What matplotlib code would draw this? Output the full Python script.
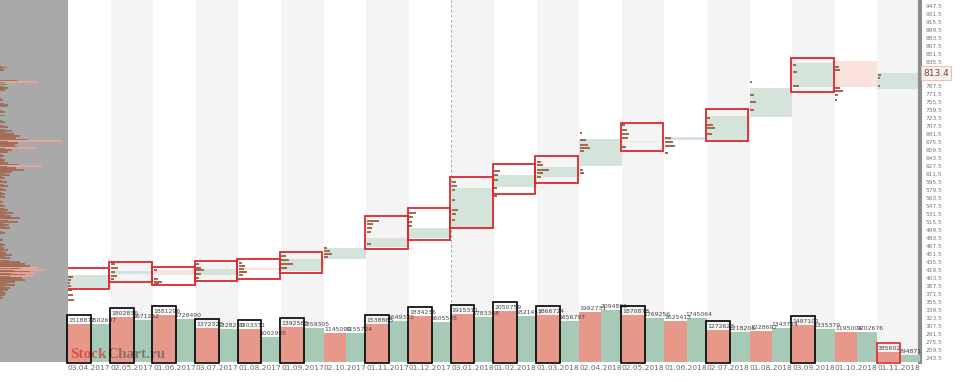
import numpy as np
import matplotlib
matplotlib.use("Agg")
import matplotlib.pyplot as plt
from matplotlib.patches import Rectangle

# ===== Data =====
months = ["03.04.2017", "02.05.2017", "01.06.2017", "03.07.2017", "01.08.2017", "01.09.2017",
          "02.10.2017", "01.11.2017", "01.12.2017", "03.01.2018", "01.02.2018", "01.03.2018",
          "02.04.2018", "02.05.2018", "01.06.2018", "02.07.2018", "01.08.2018", "03.09.2018",
          "01.10.2018", "01.11.2018"]

vol_down = [1518877, 1802836, 1881296, 1372323, 1303331, 1392563, 1145099, 1538865, 1834236, 1915311,
            2050759, 1866724, 1992731, 1870878, 1625413, 1272623, 1228692, 1497101, 1195004, 385602]
vol_up = [1502697, 1671252, 1728490, 1328259, 1002985, 1359305, 1155724, 1649372, 1605545, 1783368,
          1821457, 1656797, 2094886, 1769256, 1745064, 1218208, 1343774, 1335379, 1202676, 294871]

# monthly range boxes (high, low); None = no box
box_high = [423.4, 435.4, 425.4, 437.4, 441.4, 455.4, None, 527.4, 543.4, 605.4,
            631.4, 647.4, None, 713.4, None, 741.4, None, 843.4, None, None]
box_low = [381.4, 395.4, 389.4, 397.4, 401.4, 413.4, None, 461.4, 479.4, 503.4,
           571.4, 593.4, None, 657.4, None, 677.4, None, 775.4, None, None]

# value area (high, low) and direction
va_high = [409.4, 417.4, 419.4, 421.4, 423.4, 441.4, 463.4, 483.4, 503.4, 583.4,
           609.4, 625.4, 681.4, 677.4, 685.4, 727.4, 783.4, 833.4, 837.4, 813.4]
va_low = [383.4, 411.4, 409.4, 409.4, 419.4, 417.4, 441.4, 465.4, 483.4, 503.4,
          585.4, 605.4, 627.4, 675.4, 679.4, 679.4, 725.4, 785.4, 785.4, 781.4]
va_up = [1, 1, 0, 1, 0, 1, 1, 1, 1, 1, 1, 1, 1, 0, 1, 1, 1, 1, 0, 1]

# per-month volume profile (price levels and sizes)
prof_price = [
    [405.4, 399.4, 393.4, 387.4, 379.4, 369.4, 359.4],
    [431.4, 423.4, 415.4, 407.4, 401.4],
    [419.4, 407.4, 401.4, 395.4, 391.4],
    [431.4, 423.4, 419.4, 411.4, 403.4],
    [433.4, 427.4, 421.4, 415.4, 409.4],
    [447.4, 439.4, 431.4, 423.4, 419.4],
    [463.4, 457.4, 451.4, 445.4],
    [517.4, 511.4, 503.4, 495.4, 471.4],
    [533.4, 525.4, 515.4, 507.4],
    [595.4, 587.4, 579.4, 559.4, 539.4, 531.4, 519.4],
    [617.4, 609.4, 599.4, 583.4, 567.4],
    [635.4, 629.4, 625.4, 619.4, 613.4, 605.4],
    [693.4, 679.4, 669.4, 663.4, 657.4, 619.4, 613.4],
    [709.4, 699.4, 691.4, 683.4, 677.4, 665.4],
    [683.4, 675.4, 667.4, 661.4, 653.4],
    [723.4, 709.4, 703.4, 691.4],
    [795.4, 769.4, 755.4, 747.4, 739.4],
    [829.4, 815.4, 795.4, 787.4],
    [825.4, 819.4, 783.4, 777.4, 769.4, 759.4],
    [809.4, 803.4, 787.4],
]
prof_size = [
    [5, 3, 2, 3, 4, 5, 6],
    [4, 7, 4, 6, 3],
    [3, 14, 4, 8, 5],
    [3, 5, 8, 5, 3],
    [3, 6, 5, 8, 4],
    [5, 8, 12, 6, 17],
    [3, 6, 8, 4],
    [12, 6, 5, 4, 4],
    [7, 4, 3, 3],
    [4, 5, 3, 3, 6, 4, 3],
    [6, 4, 4, 3, 3],
    [4, 6, 31, 12, 6, 4],
    [2, 6, 8, 10, 4, 3, 4],
    [3, 5, 7, 6, 30, 4],
    [6, 8, 10, 20, 3],
    [3, 6, 8, 5],
    [2, 4, 6, 13, 4],
    [3, 4, 28, 6],
    [4, 5, 5, 8, 3, 2],
    [3, 2, 2],
]

# whole-period volume profile (left panel)
total_price = [824.4, 819.4, 795.4, 791.4, 787.4, 783.4, 779.4, 759.4, 749.4, 743.4, 735.4, 725.4,
               715.4, 705.4, 697.4, 691.4, 687.4, 683.4, 677.4, 673.4, 669.4, 663.4, 659.4, 655.4,
               647.4, 639.4, 633.4, 627.4, 623.4, 619.4, 615.4, 609.4, 603.4, 595.4, 587.4, 579.4,
               571.4, 565.4, 555.4, 547.4, 539.4, 533.4, 527.4, 523.4, 515.4, 509.4, 503.4, 493.4,
               479.4, 469.4, 463.4, 459.4, 453.4, 449.4, 443.4, 435.4, 431.4, 427.4, 423.4, 419.4,
               415.4, 413.4, 409.4, 407.4, 403.4, 399.4, 395.4, 389.4, 383.4, 379.4, 373.4, 369.4, 363.4]
total_size = [7, 4, 38, 10, 15, 8, 5, 3, 8, 15, 5, 10,
              5, 8, 12, 14, 20, 16, 62, 18, 15, 37, 12, 8,
              4, 5, 8, 42, 16, 24, 12, 10, 5, 7, 8, 6,
              5, 5, 3, 5, 8, 13, 11, 20, 18, 9, 10, 5,
              3, 5, 4, 8, 6, 12, 10, 20, 25, 30, 38, 45,
              30, 35, 25, 33, 22, 25, 15, 15, 10, 8, 6, 5, 3]

last_price = 813.4
price_ticks = np.arange(243.5, 950, 16)

# ===== Colours =====
c_down = "#e8978b"
c_up = "#a6cab5"
c_va_up = "#d5e4da"
c_va_down = "#fae2dd"
c_hist = "#a26a52"
c_poc = "#eda59a"
c_box = "#e0262b"

fig = plt.figure(figsize=(9.6, 3.82), dpi=100)
fig.patch.set_facecolor("white")
bottom = 20 / 382
height = 362 / 382

# left panel: whole-period profile
ax_l = fig.add_axes([0, bottom, 68 / 960, height])
ax_l.set_facecolor("#a9a9a9")
ax_l.set_xlim(0, 68)
ax_l.set_ylim(235.4, 959.4)
for p, s in zip(total_price, total_size):
    col = c_poc if s > 30 else ("#8fbc9f" if s in (15, 10) and p > 700 else c_hist)
    ax_l.barh(p, s, height=3.2, left=0, color=col, alpha=0.9, linewidth=0)
    ax_l.barh(p + 2.4, s * 0.45, height=2.2, left=0, color=c_hist, alpha=0.85, linewidth=0)
ax_l.set_xticks([])
ax_l.set_yticks([])
for sp in ax_l.spines.values():
    sp.set_visible(False)

# main price panel
ax = fig.add_axes([68 / 960, bottom, 852 / 960, height])
axv = ax.twinx()  # volume panel (overlaid)

n = len(months)
ax.set_xlim(0, n)
ax.set_ylim(235.4, 959.4)
for i in range(n):
    if i % 2 == 1:
        ax.axvspan(i, i + 1, color="#f4f4f4", lw=0, zorder=0)
ax.axvline(9, color="#999999", ls=(0, (3, 3)), lw=0.6, zorder=1)

for i in range(n):
    ax.add_patch(Rectangle((i, va_low[i]), 1, va_high[i] - va_low[i],
                           color=c_va_up if va_up[i] else c_va_down, lw=0, zorder=2))
    for p, s in zip(prof_price[i], prof_size[i]):
        col = c_poc if s > 12 else c_hist
        h = 1.4 if s > 12 else 3.0
        ax.barh(p, s / 42.6, height=h, left=i + 0.01, color=col, lw=0, zorder=3)
    if box_high[i] is not None:
        ax.add_patch(Rectangle((i - 0.03, box_low[i]), 1.0, box_high[i] - box_low[i],
                               fill=False, ec=c_box, lw=1.3, zorder=4))

# right price axis
ax.yaxis.tick_right()
ax.set_yticks(price_ticks)
ax.set_yticklabels([f"{t:.1f}" for t in price_ticks], fontsize=4.2, color="#777777")
ax.tick_params(axis="y", length=0, pad=4, left=False, labelleft=False, right=True, labelright=True)
for side in ["top", "left", "bottom"]:
    ax.spines[side].set_visible(False)
ax.spines["right"].set_color("#8c8c8c")
ax.spines["right"].set_linewidth(3)

ax.set_xticks(np.arange(n))
ax.set_xticklabels(months, fontsize=5.3, color="#666666", ha="left")
ax.tick_params(axis="x", length=0, pad=2)

ax.text(1.004, last_price, f"{last_price}", transform=ax.get_yaxis_transform(), fontsize=6.5,
        color="#555555", va="center", ha="left",
        bbox=dict(boxstyle="square,pad=0.25", fc="#fdeee6", ec="#e8b89e", lw=0.6), zorder=10)

axv.set_ylim(0, 14.48e6)
axv.set_xlim(0, n)
axv.set_yticks([])
for sp in axv.spines.values():
    sp.set_visible(False)
x = np.arange(n)
axv.bar(x, vol_down, width=0.52, align="edge", color=c_down, lw=0)
axv.bar(x + 0.52, vol_up, width=0.48, align="edge", color=c_up, lw=0)
for i in range(n):
    axv.text(i + 0.01, vol_down[i] + 0.04e6, str(vol_down[i]), fontsize=4.4, color="#444444",
             ha="left", va="bottom")
    axv.text(i + 0.5, vol_up[i] + 0.04e6, str(vol_up[i]), fontsize=4.4, color="#444444",
             ha="left", va="bottom")
    if box_high[i] is not None or i == n - 1:
        ec = c_box if i == n - 1 else "black"
        axv.add_patch(Rectangle((i - 0.02, -0.04e6), 0.56, vol_down[i] + 0.4e6,
                                fill=False, ec=ec, lw=1.2, clip_on=False, zorder=5))

# watermark
t1 = axv.text(0.003, 0.01, "Stock", transform=axv.transAxes, fontsize=11, color="#cf3b33",
              family="Liberation Serif", weight="bold", alpha=0.75, va="baseline")
axv.annotate("Chart.ru", xy=(1, 0), xycoords=t1, fontsize=11, color="#6f6356",
             family="Liberation Serif", weight="bold", alpha=0.75, va="bottom")

plt.savefig("out.png", dpi=100)
